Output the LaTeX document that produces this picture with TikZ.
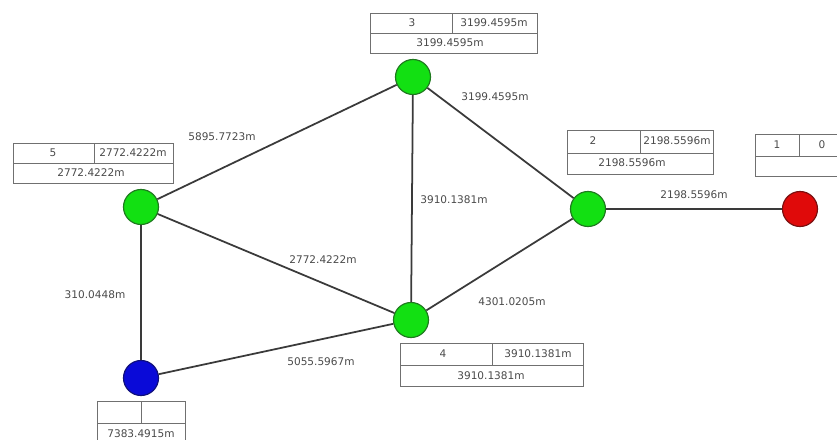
\documentclass[tikz,border=0pt]{standalone}
\usepackage{fontspec}
\setmainfont{DejaVu Sans}
\usetikzlibrary{positioning}
\definecolor{netgreen}{HTML}{12E012}
\definecolor{netgreendk}{HTML}{1F7A1F}
\definecolor{netred}{HTML}{E00A0A}
\definecolor{netreddk}{HTML}{7A1010}
\definecolor{netblue}{HTML}{0A0AD8}
\definecolor{netbluedk}{HTML}{10107A}
\definecolor{netline}{HTML}{3A3A3A}
\definecolor{nettext}{HTML}{4A4A4A}
\definecolor{netbox}{HTML}{707070}

\begin{document}
\begin{tikzpicture}[
    x=0.03cm,y=-0.03cm,
    stn/.style   = {circle,minimum size=1.05cm,inner sep=0pt,line width=1pt},
    stnG/.style  = {stn,fill=netgreen,draw=netgreendk},
    stnR/.style  = {stn,fill=netred,draw=netreddk},
    stnB/.style  = {stn,fill=netblue,draw=netbluedk},
    link/.style  = {draw=netline,line width=1.5pt},
    dist/.style  = {font=\fontsize{9}{10}\selectfont,text=nettext,inner sep=1pt},
    cell/.style  = {font=\fontsize{9}{10}\selectfont,text=nettext,inner sep=1pt},
    tab/.style   = {draw=netbox,line width=0.8pt},
  ]
  \useasboundingbox (0,0) rectangle (837,439);

  % Tableaux des stations
  \draw[tab] (370,13) rectangle (537,53);
  \draw[tab] (370,33) -- (537,33) (452,13) -- (452,33);
  \node[cell] (t3a) at (412,23) {3};
  \node[cell] (t3b) at (494,23) {3199.4595m};
  \node[cell] (t3c) at (450,43) {3199.4595m};

  \draw[tab] (13,143) rectangle (173,183);
  \draw[tab] (13,163) -- (173,163) (94,143) -- (94,163);
  \node[cell] (t5a) at (53,153) {5};
  \node[cell] (t5b) at (133,153) {2772.4222m};
  \node[cell] (t5c) at (91,173) {2772.4222m};

  \draw[tab] (567,130) rectangle (713,174);
  \draw[tab] (567,153) -- (713,153) (640,130) -- (640,153);
  \node[cell] (t2a) at (593,141) {2};
  \node[cell] (t2b) at (677,141) {2198.5596m};
  \node[cell] (t2c) at (632,163) {2198.5596m};

  \draw[tab] (755,134) rectangle (850,176);
  \draw[tab] (755,156) -- (850,156) (799,134) -- (799,156);
  \node[cell] (t1a) at (777,145) {1};
  \node[cell] (t1b) at (822,145) {0};

  \draw[tab] (400,343) rectangle (583,386);
  \draw[tab] (400,365) -- (583,365) (492,343) -- (492,365);
  \node[cell] (t4a) at (443,354) {4};
  \node[cell] (t4b) at (538,354) {3910.1381m};
  \node[cell] (t4c) at (491,376) {3910.1381m};

  \draw[tab] (97,401) rectangle (185,448);
  \draw[tab] (97,423) -- (185,423) (141,401) -- (141,423);
  \node[cell] (t0c) at (141,434) {7383.4915m};

  % Stations
  \node[stnG] (s3) at (413,77)  {};
  \node[stnG] (s5) at (141,207) {};
  \node[stnG] (s2) at (588,209) {};
  \node[stnR] (s1) at (800,209) {};
  \node[stnG] (s4) at (411,320) {};
  \node[stnB] (s0) at (141,378) {};

  % Liaisons
  \draw[link] (s3) -- (s5);
  \draw[link] (s3) -- (s4);
  \draw[link] (s3) -- (s2);
  \draw[link] (s5) -- (s4);
  \draw[link] (s5) -- (s0);
  \draw[link] (s0) -- (s4);
  \draw[link] (s4) -- (s2);
  \draw[link] (s2) -- (s1);

  % Distances
  \node[dist] (d35) at (222,137) {5895.7723m};
  \node[dist] (d32) at (495,97)  {3199.4595m};
  \node[dist] (d34) at (454,200) {3910.1381m};
  \node[dist] (d21) at (694,195) {2198.5596m};
  \node[dist] (d54) at (323,260) {2772.4222m};
  \node[dist] (d50) at (95,295)  {310.0448m};
  \node[dist] (d42) at (512,302) {4301.0205m};
  \node[dist] (d04) at (321,362) {5055.5967m};

\end{tikzpicture}
\end{document}
